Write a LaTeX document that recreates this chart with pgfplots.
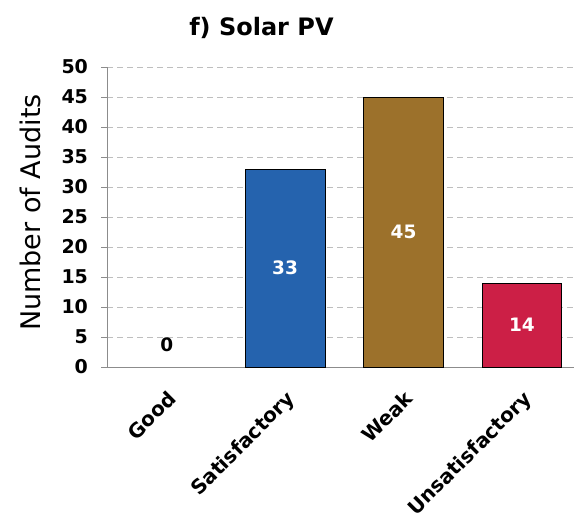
\documentclass[border=0pt]{standalone}
\usepackage{pgfplots}
\pgfplotsset{compat=1.18}
\usepackage{fontspec}
\setmainfont{DejaVu Sans}
\definecolor{barblue}{HTML}{2563AE}
\definecolor{barbrown}{HTML}{9C712B}
\definecolor{barred}{HTML}{CC1F46}
\definecolor{axgray}{HTML}{8C8C8C}
\definecolor{gridgray}{HTML}{BEBEBE}
\begin{document}
\begin{tikzpicture}
\begin{axis}[
    name=ax,
    scale only axis,
    width=466.5pt, height=300pt,
    xmin=-0.5, xmax=3.44,
    ymin=0, ymax=50,
    ytick={0,5,...,50},
    xtick={0,1,2,3},
    xticklabels={Good,Satisfactory,Weak,Unsatisfactory},
    /pgf/number format/assume math mode=true,
    axis x line*=bottom,
    axis y line*=left,
    axis line style={draw=axgray, line width=0.8pt},
    tick align=outside,
    major tick length=6pt,
    tick style={draw=axgray, line width=0.8pt},
    major x tick style={draw=none},
    extra x ticks={-0.5,0.5,1.5,2.5},
    extra x tick labels={},
    extra x tick style={major tick length=8pt, tick style={draw=axgray, line width=0.8pt}, grid=none},
    ymajorgrids=true,
    grid style={dash pattern=on 6pt off 4pt, gridgray, line width=0.8pt},
    x tick label style={rotate=45, anchor=north east, yshift=-8pt, xshift=-8pt,
        font=\fontsize{20}{20}\selectfont\bfseries},
    y tick label style={font=\fontsize{19}{19}\selectfont\bfseries, xshift=-10pt},
    ylabel={Number of Audits},
    ylabel style={font=\fontsize{27}{27}\selectfont,
        at={(axis description cs:-0.166,0.515)}, anchor=center},
    title={f) Solar PV},
    title style={font=\fontsize{24}{24}\selectfont\bfseries,
        at={(axis description cs:0.33,1.11)}, anchor=center},
]
\addplot[ybar, bar shift=0pt, bar width=0.675, fill=barblue, draw=black, line width=0.8pt]
    coordinates {(1,33)};
\addplot[ybar, bar shift=0pt, bar width=0.675, fill=barbrown, draw=black, line width=0.8pt]
    coordinates {(2,45)};
\addplot[ybar, bar shift=0pt, bar width=0.675, fill=barred, draw=black, line width=0.8pt]
    coordinates {(3,14)};
% value labels
\addplot[draw=none, mark=none, nodes near coords, point meta=explicit symbolic,
    every node near coord/.append style={anchor=center, text=white,
        font=\fontsize{18.5}{18.5}\selectfont\bfseries}]
    coordinates {(1,16.5)[33] (2,22.5)[45] (3,7)[14]};
\addplot[draw=none, mark=none, nodes near coords, point meta=explicit symbolic,
    every node near coord/.append style={anchor=center, text=black,
        font=\fontsize{18.5}{18.5}\selectfont\bfseries}]
    coordinates {(0,3.7)[0]};
\end{axis}
\pgfresetboundingbox
\path (ax.south west) ++(-107.5pt,-148pt) rectangle ++(574pt,515pt);
\end{tikzpicture}
\end{document}
